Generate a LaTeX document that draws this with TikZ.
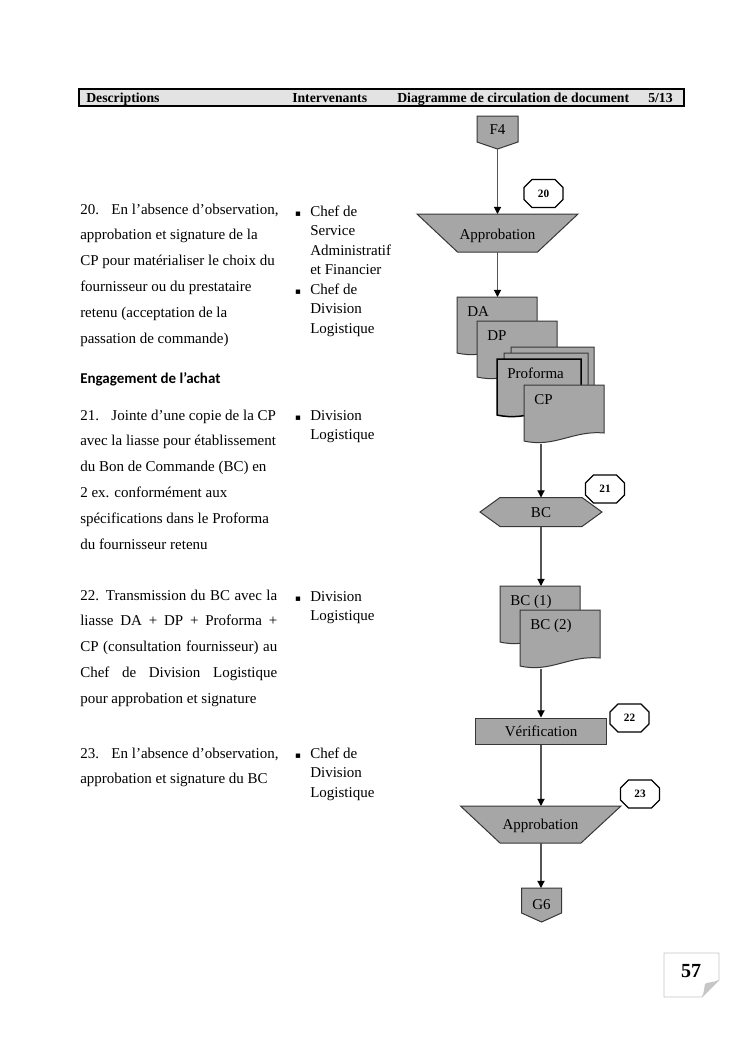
\documentclass[tikz,border=0pt]{standalone}
\usepackage{fontspec}
\setmainfont{Liberation Serif}
\newfontfamily\carlito{Carlito}
\newfontfamily\dejavu{DejaVu Sans}
\usetikzlibrary{arrows.meta}
\definecolor{boxgray}{RGB}{166,166,166}
\definecolor{edgecol}{RGB}{55,55,55}
\definecolor{linegray}{RGB}{85,85,85}
\newcommand\pxu[1]{#1*0.8pt}
\newcommand\docpath[4][]{\draw[shp,#1] (#2,#3) -- ({#2+#4},#3) -- ({#2+#4},{#3+48}) .. controls ({#2+0.62*#4},{#3+45}) and ({#2+0.38*#4},{#3+63}) .. (#2,{#3+56}) -- cycle;}
\newcommand\paralines[5]{\foreach \t [count=\i from 0] in {#5} {\node[bodytext] (#1-\i) at (#2,{#3+\i*#4}) {\t};}}
\newcommand\bulletat[3]{\node[anchor=base,inner sep=0,font=\dejavu\fontsize{7}{7}\selectfont] (#1) at (#2,#3) {▪};}
\newcommand\octagon[4]{\draw[octoline] ({#2-19.5},{#3-6}) -- ({#2-11.5},{#3-14}) -- ({#2+11.5},{#3-14}) -- ({#2+19.5},{#3-6}) -- ({#2+19.5},{#3+6}) -- ({#2+11.5},{#3+14}) -- ({#2-11.5},{#3+14}) -- ({#2-19.5},{#3+6}) -- cycle;
  \node[octotext] (#1) at (#2,#3) {#4};}
\begin{document}
\begin{tikzpicture}[x=0.8pt,y=-0.8pt,
  shp/.style={fill=boxgray,draw=edgecol,line width=0.8pt,line join=miter},
  lbl/.style={inner sep=0,font=\fontsize{12}{14}\selectfont},
  bodytext/.style={anchor=base west,inner sep=0,font=\fontsize{12}{14}\selectfont},
  hdrtext/.style={anchor=base west,inner sep=0,font=\fontsize{11}{13}\selectfont\bfseries},
  conn/.style={draw=linegray,line width=0.9pt,-{Triangle[length=5.8pt,width=5.8pt,color=black]}},
  octoline/.style={draw=black,line width=0.9pt,fill=white},
  octotext/.style={inner sep=0pt,font=\fontsize{9}{10}\selectfont\bfseries},
]
\useasboundingbox (0,0) rectangle (744,1053);

% header
\node[draw=black,line width=1.2pt,fill=gray!22,minimum width=\pxu{605},minimum height=\pxu{17},inner sep=0] (hdr) at (381.5,97.5) {};
\node[hdrtext] (h1) at (86,102) {Descriptions};
\node[hdrtext] (h2) at (292,102) {Intervenants};
\node[hdrtext] (h3) at (397,102) {Diagramme de circulation de document};
\node[hdrtext] (h4) at (648,102) {5/13};

% F4
\draw[shp] (477,116) -- (518,116) -- (518,142) -- (497.5,149) -- (477,142) -- cycle;
\node[lbl,anchor=base] (f4) at (497.5,134) {F4};
\coordinate (f4-s) at (497.5,149);

\octagon{n20}{543.5}{193.5}{20}

% Approbation 1
\draw[shp] (417,214) -- (578,214) -- (537.5,252) -- (457.5,252) -- cycle;
\node[lbl,anchor=base] (ap1) at (497.5,239) {Approbation};
\coordinate (ap1-n) at (497.5,214);
\coordinate (ap1-s) at (497.5,252);
\draw[conn] (f4-s) -- (ap1-n);

% document stack
\docpath{457}{297}{80}
\node[lbl,anchor=base west] (da) at (467,316) {DA};
\docpath{477}{321}{80}
\node[lbl,anchor=base west] (dp) at (487,340) {DP};
\docpath{511}{347}{83}
\docpath{504}{353}{84}
\docpath[draw=black,line width=1.2pt]{497}{359}{84}
\node[lbl,anchor=base west] (pf) at (507,378) {Proforma};
\docpath{524}{385}{80}
\node[lbl,anchor=base west] (cp) at (534,404) {CP};
\coordinate (da-n) at (497.5,297);
\coordinate (cp-s) at (541,443.5);
\draw[conn] (ap1-s) -- (da-n);

% BC hexagon
\draw[shp] (480,512) -- (500,497.5) -- (582,497.5) -- (602,512) -- (582,526.5) -- (500,526.5) -- cycle;
\node[lbl,anchor=base] (bc) at (541,517) {BC};
\coordinate (bc-n) at (541,497.5);
\coordinate (bc-s) at (541,526.5);
\draw[conn] (cp-s) -- (bc-n);
\octagon{n21}{605}{489}{21}

% BC (1), BC (2)
\docpath{500}{586}{80}
\node[lbl,anchor=base west] (bc1) at (510,605) {BC (1)};
\docpath{520}{610}{80}
\node[lbl,anchor=base west] (bc2) at (530,629) {BC (2)};
\coordinate (bc1-n) at (541,586);
\coordinate (bc2-s) at (541,668.5);
\draw[conn] (bc-s) -- (bc1-n);

% Verification
\node[shp,minimum width=\pxu{131},minimum height=\pxu{26},inner sep=0,font=\fontsize{12}{14}\selectfont] (ver) at (541,731) {Vérification};
\draw[conn] (bc2-s) -- (ver);
\octagon{n22}{629.5}{718}{22}

% Approbation 2
\draw[shp] (460.5,806) -- (621,806) -- (581,843) -- (500,843) -- cycle;
\node[lbl,anchor=base] (ap2) at (540.5,829) {Approbation};
\coordinate (ap2-n) at (541,806);
\coordinate (ap2-s) at (541,843);
\draw[conn] (ver) -- (ap2-n);
\octagon{n23}{640}{794}{23}

% G6
\draw[shp] (521.5,888) -- (561.5,888) -- (561.5,913) -- (541.5,922) -- (521.5,913) -- cycle;
\node[lbl,anchor=base] (g6) at (541.5,909) {G6};
\coordinate (g6-n) at (541,888);
\draw[conn] (ap2-s) -- (g6-n);

% descriptions
\paralines{d20}{80}{214}{25.8}{{20.\hspace{10pt}En l’absence d’observation,},{approbation et signature de la},{CP pour matérialiser le choix du},{fournisseur ou du prestataire},{retenu (acceptation de la},{passation de commande)}}
\node[anchor=base west,inner sep=0,font=\carlito\fontsize{12}{14}\selectfont\bfseries] (eng) at (80,383) {Engagement de l’achat};
\paralines{d21}{80}{420}{25.8}{{21.\hspace{10pt}Jointe d’une copie de la CP},{avec la liasse pour établissement},{du Bon de Commande (BC) en},{2 ex. conformément aux},{spécifications dans le Proforma},{du fournisseur retenu}}
\paralines{d22}{80}{600}{25.8}{{\makebox[157.6pt][s]{22. Transmission du BC avec la}},{\makebox[157.6pt][s]{liasse DA + DP + Proforma +}},{\makebox[157.6pt][s]{CP (consultation fournisseur) au}},{\makebox[157.6pt][s]{Chef de Division Logistique}},{pour approbation et signature}}
\paralines{d23}{80}{758}{25.8}{{23.\hspace{10pt}En l’absence d’observation,},{approbation et signature du BC}}

% intervenants
\bulletat{b20a}{298}{216}
\paralines{i20}{310}{216}{19.5}{{Chef de},{Service},{Administratif},{et Financier},{Chef de},{Division},{Logistique}}
\bulletat{b20b}{298}{294}
\bulletat{b21}{298}{420}
\paralines{i21}{310}{420}{19.5}{{Division},{Logistique}}
\bulletat{b22}{298}{601}
\paralines{i22}{310}{601}{19.5}{{Division},{Logistique}}
\bulletat{b23}{298}{758}
\paralines{i23}{310}{758}{19.5}{{Chef de},{Division},{Logistique}}

% page number
\draw[draw=gray!45,line width=0.7pt,fill=white] (664,953) -- (719,953) -- (719,980) -- (702,997) -- (664,997) -- cycle;
\fill[gray!45] (719,980) .. controls (712,983) and (707,982) .. (705,984) .. controls (704,989) and (704,993) .. (702,997) -- cycle;
\node[anchor=base,inner sep=0,font=\fontsize{16}{18}\selectfont\bfseries] (pg) at (691,977) {57};
\end{tikzpicture}
\end{document}
